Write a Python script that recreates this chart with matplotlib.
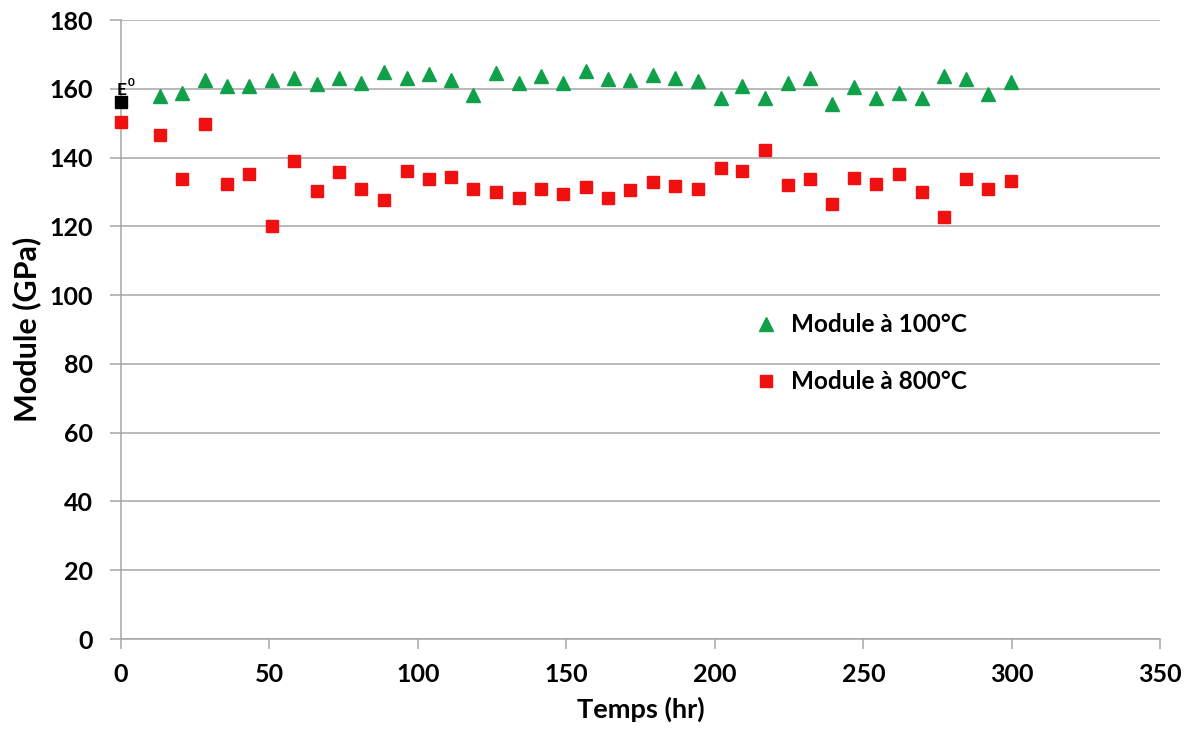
import matplotlib.pyplot as plt

# data
temps = [13.1, 20.7, 28.2, 35.7, 43.2, 50.8, 58.4, 65.9, 73.3, 80.8,
         88.6, 96.2, 103.7, 111.3, 118.6, 126.3, 133.9, 141.4, 148.9, 156.5,
         164.0, 171.5, 179.0, 186.5, 194.2, 201.9, 209.3, 216.8, 224.5, 232.0,
         239.4, 247.0, 254.4, 261.9, 269.6, 277.0, 284.5, 292.0, 299.6]
mod_100 = [158.0, 158.8, 162.7, 160.8, 160.8, 162.5, 163.0, 161.3, 163.0, 161.7,
           165.0, 163.1, 164.2, 162.5, 158.3, 164.6, 161.6, 163.6, 161.6, 165.3,
           162.9, 162.6, 164.0, 163.2, 162.4, 157.3, 160.9, 157.3, 161.6, 163.0,
           155.7, 160.5, 157.2, 158.9, 157.2, 163.7, 162.9, 158.5, 162.0]
temps_800 = [0.0] + temps
mod_800 = [150.2, 146.7, 133.9, 149.9, 132.4, 135.1, 120.2, 139.0, 130.4, 135.8,
           131.0, 127.7, 136.1, 133.9, 134.4, 131.0, 129.9, 128.2, 131.0, 129.3,
           131.4, 128.2, 130.7, 132.9, 131.7, 131.0, 137.1, 136.1, 142.1, 132.1,
           133.7, 126.6, 134.2, 132.3, 135.3, 130.1, 122.6, 133.7, 130.8, 133.2]
e0_x, e0_y = 0.0, 156.1

plt.rcParams['font.family'] = ['Lato', 'DejaVu Sans']
plt.rcParams['font.weight'] = 'bold'

fig = plt.figure(figsize=(11.94, 7.33), dpi=100)
ax = fig.add_axes([0.1013, 0.1282, 0.8705, 0.8445])

grid_col = '#a6a6a6'
ax.plot(temps, mod_100, linestyle='none', marker='^', ms=10, color='#10a04a',
        label='Module à 100°C', clip_on=False, zorder=3)
ax.plot(temps_800, mod_800, linestyle='none', marker='s', ms=8.2, color='#f01010',
        label='Module à 800°C', clip_on=False, zorder=3)
ax.plot([e0_x], [e0_y], linestyle='none', marker='s', ms=8.2, color='black',
        clip_on=False, zorder=4)
# E with a superscript 0 above the reference point
ax.annotate('E', (e0_x, e0_y), xytext=(-3, 5.5), textcoords='offset points',
            fontsize=12.5, fontweight='bold', ha='left', va='baseline')
ax.annotate('0', (e0_x, e0_y), xytext=(4.6, 11.5), textcoords='offset points',
            fontsize=8.5, fontweight='bold', ha='left', va='baseline')

ax.set_xlim(0, 350)
ax.set_ylim(0, 180)
ax.set_xticks(range(0, 351, 50))
ax.set_yticks(range(0, 181, 20))
ax.yaxis.grid(True, color=grid_col, linewidth=1.1)
ax.set_axisbelow(True)
for s in ['top', 'right']:
    ax.spines[s].set_visible(False)
for s in ['left', 'bottom']:
    ax.spines[s].set_color(grid_col)
    ax.spines[s].set_linewidth(1.1)
ax.tick_params(axis='both', colors=grid_col, labelcolor='black', labelsize=18,
               width=1.1)
ax.tick_params(axis='x', length=7, pad=10)
ax.tick_params(axis='y', length=8, pad=12)

ax.set_xlabel('Temps (hr)', fontsize=19.5, fontweight='bold', labelpad=8)
ax.set_ylabel('Module (GPa)', fontsize=22, fontweight='bold', labelpad=6)

ax.legend(loc='upper left', bbox_to_anchor=(0.5875, 0.562), frameon=False,
          fontsize=17.5, handlelength=1.0, handletextpad=0.55, labelspacing=1.4)

fig.savefig('out.png', dpi=100)
